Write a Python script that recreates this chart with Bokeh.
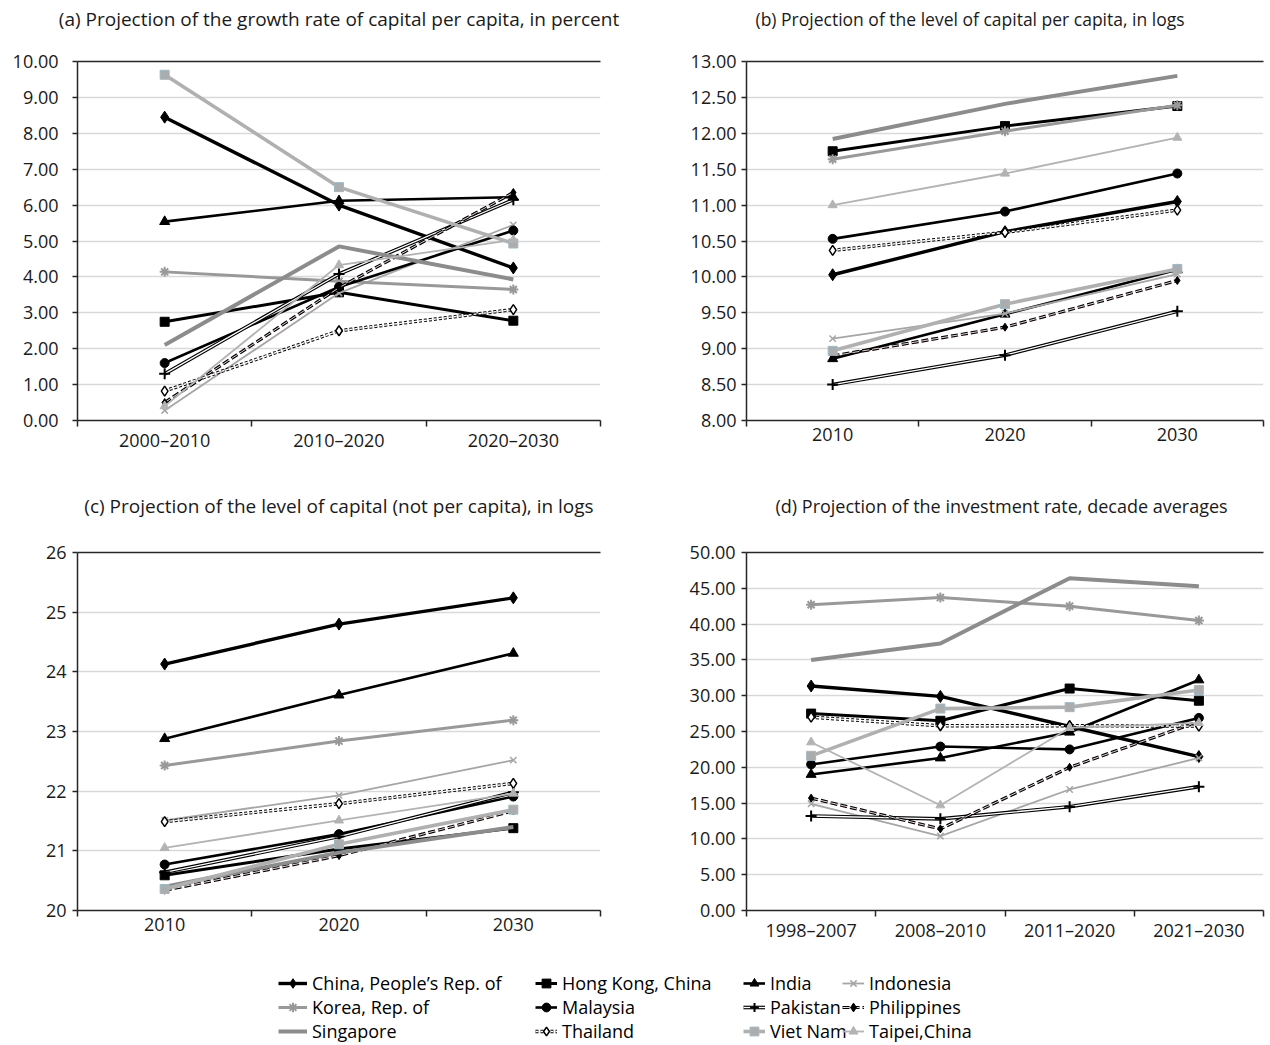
from bokeh.plotting import figure
from bokeh.models import Range1d, FixedTicker, NumeralTickFormatter, LinearAxis, Legend, LegendItem
from bokeh.layouts import column, row
from bokeh.embed import file_html
from bokeh.resources import INLINE

FONT = "Open Sans"

# ---------------- data ----------------
countries = ["China, People’s Rep. of", "Hong Kong, China", "India", "Indonesia",
             "Korea, Rep. of", "Malaysia", "Pakistan", "Philippines",
             "Singapore", "Thailand", "Viet Nam", "Taipei,China"]

periods_growth = ["2000–2010", "2010–2020", "2020–2030"]
years_level = ["2010", "2020", "2030"]
periods_invest = ["1998–2007", "2008–2010", "2011–2020", "2021–2030"]

ticks_growth = [0, 1, 2, 3, 4, 5, 6, 7, 8, 9, 10]
ticks_level_pc = [8.0, 8.5, 9.0, 9.5, 10.0, 10.5, 11.0, 11.5, 12.0, 12.5, 13.0]
ticks_level = [20, 21, 22, 23, 24, 25, 26]
ticks_invest = [0, 5, 10, 15, 20, 25, 30, 35, 40, 45, 50]

# (a) growth rate of capital per capita, percent
growth_rate = {
    "China, People’s Rep. of": [8.45, 6.00, 4.25],
    "Hong Kong, China": [2.75, 3.57, 2.78],
    "India": [5.54, 6.12, 6.22],
    "Indonesia": [0.28, 3.55, 5.45],
    "Korea, Rep. of": [4.14, 3.88, 3.65],
    "Malaysia": [1.60, 3.72, 5.29],
    "Pakistan": [1.30, 4.08, 6.15],
    "Philippines": [0.50, 3.70, 6.35],
    "Singapore": [2.10, 4.85, 3.93],
    "Thailand": [0.82, 2.50, 3.09],
    "Viet Nam": [9.63, 6.50, 4.93],
    "Taipei,China": [0.40, 4.33, 5.03],
}

# (b) level of capital per capita, logs
level_per_capita = {
    "China, People’s Rep. of": [10.03, 10.63, 11.05],
    "Hong Kong, China": [11.75, 12.10, 12.38],
    "India": [8.86, 9.48, 10.10],
    "Indonesia": [9.14, 9.49, 10.04],
    "Korea, Rep. of": [11.64, 12.03, 12.39],
    "Malaysia": [10.53, 10.91, 11.44],
    "Pakistan": [8.50, 8.91, 9.52],
    "Philippines": [8.90, 9.30, 9.95],
    "Singapore": [11.92, 12.41, 12.80],
    "Thailand": [10.37, 10.62, 10.93],
    "Viet Nam": [8.97, 9.62, 10.11],
    "Taipei,China": [11.00, 11.44, 11.94],
}

# (c) level of capital (not per capita), logs
level_total = {
    "China, People’s Rep. of": [24.13, 24.80, 25.24],
    "Hong Kong, China": [20.59, 21.03, 21.38],
    "India": [22.88, 23.61, 24.31],
    "Indonesia": [21.51, 21.93, 22.52],
    "Korea, Rep. of": [22.43, 22.84, 23.19],
    "Malaysia": [20.77, 21.28, 21.91],
    "Pakistan": [20.64, 21.24, 21.98],
    "Philippines": [20.34, 20.92, 21.67],
    "Singapore": [20.40, 20.97, 21.40],
    "Thailand": [21.49, 21.79, 22.13],
    "Viet Nam": [20.36, 21.11, 21.69],
    "Taipei,China": [21.05, 21.51, 21.96],
}

# (d) investment rate, decade averages
investment_rate = {
    "China, People’s Rep. of": [31.35, 29.90, 25.70, 21.50],
    "Hong Kong, China": [27.50, 26.50, 31.00, 29.30],
    "India": [19.00, 21.30, 24.90, 32.20],
    "Indonesia": [14.90, 10.40, 16.90, 21.30],
    "Korea, Rep. of": [42.70, 43.70, 42.50, 40.50],
    "Malaysia": [20.40, 22.90, 22.50, 26.90],
    "Pakistan": [13.20, 12.80, 14.50, 17.30],
    "Philippines": [15.70, 11.40, 20.00, 26.40],
    "Singapore": [35.00, 37.30, 46.40, 45.30],
    "Thailand": [27.00, 25.80, 25.80, 25.75],
    "Viet Nam": [21.60, 28.20, 28.40, 30.80],
    "Taipei,China": [23.50, 14.70, 25.50, 26.20],
}

# ---------------- styles ----------------
STYLE = {
    "China, People’s Rep. of": dict(color="#000000", width=3.4, marker="diamond", size=12, fill="#000000", mline="#000000"),
    "Hong Kong, China": dict(color="#000000", width=3.0, marker="square", size=9, fill="#000000", mline="#000000"),
    "India": dict(color="#000000", width=2.6, marker="triangle", size=10, fill="#000000", mline="#000000"),
    "Indonesia": dict(color="#a6a6a6", width=1.8, marker="x", size=9, fill="#a6a6a6", mline="#a6a6a6", mlw=1.5),
    "Korea, Rep. of": dict(color="#999999", width=3.0, marker="asterisk", size=10, fill="#999999", mline="#999999", mlw=2),
    "Malaysia": dict(color="#000000", width=2.6, marker="circle", size=9, fill="#000000", mline="#000000"),
    "Pakistan": dict(color="#000000", width=3.6, over="#ffffff", over_w=1.3, marker="cross", size=11, fill="#000000", mline="#000000", mlw=2),
    "Philippines": dict(color="#000000", width=3.2, dash="7 3", over="#ead4d4", over_w=1.0, marker="diamond", size=8, fill="#000000", mline="#000000"),
    "Singapore": dict(color="#8c8c8c", width=4.0),
    "Thailand": dict(color="#000000", width=3.4, dash="3 2", over="#ffffff", over_w=1.4, marker="diamond", size=10, fill="#ffffff", mline="#000000", mlw=1.5),
    "Viet Nam": dict(color="#b0b0b0", width=3.6, marker="square", size=9, fill="#acacac", mline="#9fb9c4"),
    "Taipei,China": dict(color="#b3b3b3", width=1.8, marker="triangle", size=9, fill="#b3b3b3", mline="#b3b3b3"),
}


def draw(p, xs, ys, st):
    rs = [p.line(xs, ys, line_color=st["color"], line_width=st["width"], line_dash=st.get("dash", "solid"))]
    if "over" in st:
        rs.append(p.line(xs, ys, line_color=st["over"], line_width=st["over_w"], line_dash=st.get("dash", "solid")))
    if st.get("marker"):
        rs.append(p.scatter(xs, ys, marker=st["marker"], size=st["size"], fill_color=st["fill"],
                            line_color=st["mline"], line_width=st.get("mlw", 1)))
    return rs


def panel(title, tsize, talign, toff, tgap, cats, data, yticks, fmt, width, height, bl, br, bt, bb, ystand):
    n = len(cats)
    xs = list(range(n))
    p = figure(width=width, height=height, x_range=Range1d(-0.5, n - 0.5),
               y_range=Range1d(yticks[0], yticks[-1]), output_backend="svg", toolbar_location=None,
               min_border_left=bl, min_border_right=br, min_border_top=bt, min_border_bottom=bb,
               outline_line_color=None, title=title)
    p.title.align = talign
    p.title.offset = toff
    p.title.standoff = 0
    p.title.text_font = FONT
    p.title.text_font_style = "normal"
    p.title.text_font_size = tsize
    p.title.text_color = "#1a1a1a"

    ax = p.xaxis[0]
    ax.ticker = FixedTicker(ticks=xs, minor_ticks=[i - 0.5 for i in range(n + 1)])
    ax.major_label_overrides = {i: cats[i] for i in range(n)}
    ax.major_tick_in = 0
    ax.major_tick_out = 0
    ax.minor_tick_in = 0
    ax.minor_tick_out = 6
    ax.minor_tick_line_color = "#262626"
    ax.minor_tick_line_width = 1.5
    ax.axis_line_color = "#262626"
    ax.axis_line_width = 1.5
    ax.major_label_standoff = 1
    ax.major_label_text_font = FONT
    ax.major_label_text_font_size = "18px"
    ax.major_label_text_color = "#1a1a1a"

    ay = p.yaxis[0]
    ay.ticker = FixedTicker(ticks=yticks)
    ay.formatter = NumeralTickFormatter(format=fmt)
    ay.major_tick_in = 0
    ay.major_tick_out = 5
    ay.minor_tick_out = 0
    ay.major_tick_line_color = "#262626"
    ay.major_tick_line_width = 1.5
    ay.axis_line_color = "#262626"
    ay.axis_line_width = 1.5
    ay.major_label_standoff = ystand
    ay.major_label_text_font = FONT
    ay.major_label_text_font_size = "18px"
    ay.major_label_text_color = "#1a1a1a"

    p.xgrid.grid_line_color = None
    p.ygrid.ticker = FixedTicker(ticks=yticks)
    p.ygrid.grid_line_color = "#d9d9d9"
    p.ygrid.grid_line_width = 1.5

    # top frame line; its (practically transparent) ticks reserve the gap between title and frame
    top = LinearAxis(ticker=FixedTicker(ticks=xs), axis_line_color="#262626", axis_line_width=1.5,
                     major_tick_out=tgap, major_tick_in=0, minor_tick_out=0, minor_tick_in=0,
                     major_tick_line_color="#262626", major_tick_line_alpha=0.003,
                     major_label_overrides={i: "" for i in xs},
                     major_label_standoff=0, major_label_text_font_size="0px")
    p.add_layout(top, "above")

    for c in countries:
        draw(p, xs, data[c], STYLE[c])
    return p


pa = panel("(a) Projection of the growth rate of capital per capita, in percent", "19px", "center", 0, 30,
           periods_growth, growth_rate, ticks_growth, "0.00", 648, 470, 77, 48, 61, 50, 14)
pb = panel("(b) Projection of the level of capital per capita, in logs", "17.5px", "left", 9, 31,
           years_level, level_per_capita, ticks_level_pc, "0.00", 622, 470, 98, 7, 61, 50, 5)
pc = panel("(c) Projection of the level of capital (not per capita), in logs", "19px", "center", 0, 34,
           years_level, level_total, ticks_level, "0", 648, 490, 77, 48, 82, 50, 6)
pd_ = panel("(d) Projection of the investment rate, decade averages", "18px", "left", 29, 35,
            periods_invest, investment_rate, ticks_invest, "0.00", 622, 490, 98, 7, 82, 50, 6)

# ---------------- legend ----------------
# legend-only figure: the series are drawn outside its visible range so that only the legend shows
lg = figure(width=1270, height=84, output_backend="svg", toolbar_location=None,
            x_range=Range1d(100, 101), y_range=Range1d(100, 101), x_axis_type=None, y_axis_type=None,
            min_border=0, outline_line_color=None)
lg.xgrid.visible = False
lg.ygrid.visible = False
col_x = [278, 535, 743, 842]
col_gw = [29, 22, 22, 22]
xs_leg = list(range(len(periods_growth)))
for j in range(4):
    items = []
    for c in countries[j::4]:
        items.append(LegendItem(label=c, renderers=draw(lg, xs_leg, growth_rate[c], STYLE[c])))
    leg = Legend(items=items, location=(col_x[j], 1), orientation="vertical",
                 glyph_width=col_gw[j], glyph_height=24, label_height=24, spacing=0,
                 padding=0, margin=0, border_line_color=None, background_fill_alpha=0,
                 label_text_font=FONT, label_text_font_size="18px", label_standoff=5,
                 label_text_color="#000000")
    lg.add_layout(leg)

layout = column(row(pa, pb), row(pc, pd_), lg)
open("out.html", "w").write(file_html(layout, INLINE))
